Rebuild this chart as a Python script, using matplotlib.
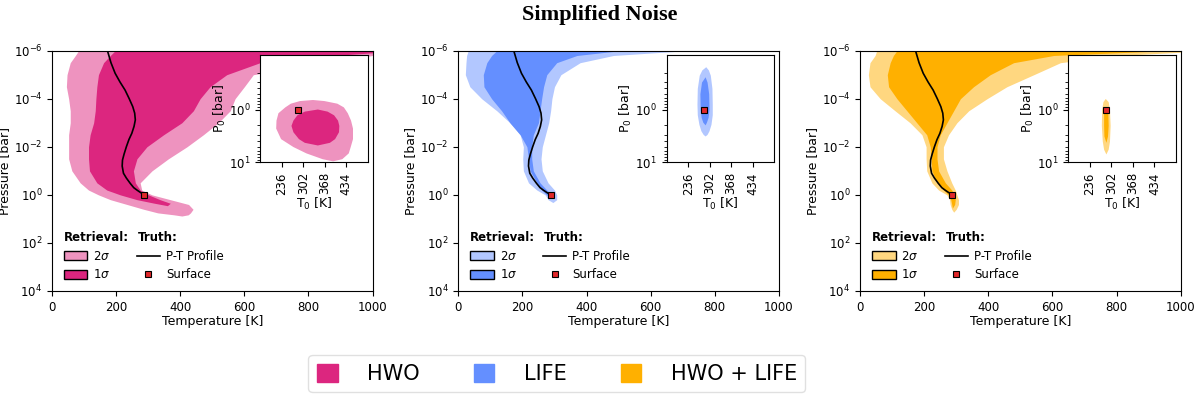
import numpy as np
import matplotlib.pyplot as plt
from matplotlib.patches import Patch
from matplotlib.lines import Line2D
from matplotlib.ticker import NullLocator

# true P-T profile (same for all three panels)
profile_logp = [-6, -5.5, -5.06, -4.7, -4.36, -4.0, -3.67, -3.4, -3.12, -2.85, -2.56, -2.3, -2.0,
                -1.7, -1.45, -1.2, -0.9, -0.7, -0.48, -0.3, -0.2, -0.1, 0]
profile_t = [173, 184, 197, 212, 228, 241, 252, 258, 260, 256, 249, 240, 232,
             225, 220, 219, 223, 232, 244, 255, 265, 276, 288]
surface_t = 288
surface_p = 1.0

# HWO retrieval envelopes (log10 P [bar], lower / upper temperature [K])
hwo_2s_logp = [-6, -5.8, -5.5, -5, -4.5, -4, -3.5, -3, -2.5, -2, -1.5, -1, -0.5, -0.2, 0, 0.2, 0.4, 0.6, 0.75, 0.83, 0.88]
hwo_2s_lo = [83, 73, 57, 47, 45, 52, 57, 57, 52, 52, 52, 62, 88, 114, 145, 182, 234, 286, 330, 380, 405]
hwo_2s_hi = [1100, 1000, 850, 628, 600, 571, 556, 519, 472, 421, 363, 312, 275, 280, 312, 369, 426, 440, 432, 425, 405]
hwo_1s_logp = [-6, -5.8, -5.5, -5, -4.5, -4, -3.5, -3, -2.5, -2, -1.5, -1, -0.5, -0.2, 0, 0.2, 0.35, 0.45]
hwo_1s_lo = [197, 182, 161, 145, 140, 137, 135, 130, 119, 114, 114, 117, 140, 171, 213, 265, 320, 360]
hwo_1s_hi = [1100, 877, 649, 545, 493, 462, 441, 405, 348, 296, 265, 254, 260, 275, 301, 337, 369, 360]

# LIFE retrieval envelopes
life_2s_logp = [-6, -5.8, -5.5, -5, -4.5, -4, -3.5, -3, -2.5, -2, -1.5, -1, -0.5, -0.2, 0, 0.2, 0.32]
life_2s_lo = [31, 26, 24, 22, 36, 73, 120, 161, 193, 203, 201, 203, 219, 245, 271, 280, 295]
life_2s_hi = [714, 484, 380, 320, 300, 292, 288, 282, 272, 262, 258, 262, 280, 300, 307, 307, 295]
life_1s_logp = [-6, -5.8, -5.5, -5, -4.5, -4, -3.5, -3, -2.5, -2, -1.5, -1, -0.5, -0.2, 0, 0.1]
life_1s_lo = [120, 104, 89, 78, 80, 104, 135, 161, 193, 214, 219, 224, 245, 260, 276, 285]
life_1s_hi = [505, 370, 307, 276, 266, 260, 255, 250, 234, 229, 229, 234, 255, 276, 292, 285]

# HWO + LIFE retrieval envelopes
both_2s_logp = [-6, -5.8, -5.5, -5, -4.5, -4, -3.5, -3, -2.5, -2, -1.5, -1, -0.5, -0.2, 0, 0.2, 0.4, 0.6, 0.72]
both_2s_lo = [52, 47, 31, 26, 31, 63, 109, 156, 193, 206, 206, 208, 224, 245, 271, 279, 281, 286, 292]
both_2s_hi = [1100, 802, 625, 542, 458, 396, 339, 302, 276, 260, 260, 271, 286, 297, 302, 307, 307, 300, 292]
both_1s_logp = [-6, -5.8, -5.5, -5, -4.5, -4, -3.5, -3, -2.5, -2, -1.5, -1, -0.5, -0.2, 0, 0.2, 0.4, 0.55]
both_1s_lo = [115, 104, 94, 85, 89, 115, 146, 177, 208, 219, 222, 224, 240, 260, 276, 283, 286, 288]
both_1s_hi = [958, 604, 479, 406, 354, 313, 292, 271, 250, 240, 240, 245, 266, 286, 294, 297, 295, 288]

# surface (T0, P0) posteriors for the insets (log10 P0, lower / upper T0)
hwo_in2_logp = [-0.19, -0.17, -0.12, -0.05, 0.06, 0.2, 0.35, 0.55, 0.7, 0.82, 0.93, 0.97]
hwo_in2_lo = [330, 290, 262, 245, 224, 218, 217, 232, 270, 310, 360, 392]
hwo_in2_hi = [330, 365, 405, 425, 437, 447, 453, 453, 446, 440, 420, 392]
hwo_in1_logp = [-0.01, 0.03, 0.1, 0.2, 0.3, 0.42, 0.55, 0.62, 0.67]
hwo_in1_lo = [345, 305, 282, 270, 264, 270, 287, 305, 345]
hwo_in1_hi = [345, 375, 395, 407, 411, 410, 398, 382, 345]

life_in2_logp = [-0.81, -0.75, -0.65, -0.4, -0.1, 0.1, 0.28, 0.4, 0.47, 0.5]
life_in2_lo = [290, 278, 270, 264, 263, 264, 269, 275, 282, 288]
life_in2_hi = [290, 298, 304, 309, 310, 310, 306, 300, 294, 288]
life_in1_logp = [-0.62, -0.52, -0.3, 0.0, 0.15, 0.24, 0.29]
life_in1_lo = [288, 277, 272, 273, 276, 281, 288]
life_in1_hi = [288, 294, 299, 300, 297, 292, 288]

both_in2_logp = [-0.21, -0.15, 0.0, 0.3, 0.6, 0.75, 0.84]
both_in2_lo = [283, 276, 272, 271, 274, 278, 285]
both_in2_hi = [283, 292, 296, 298, 296, 292, 285]
both_in1_logp = [-0.06, 0.05, 0.3, 0.5, 0.62]
both_in1_lo = [284, 278, 278, 279, 285]
both_in1_hi = [284, 291, 292, 290, 285]

names = ['HWO', 'LIFE', 'HWO + LIFE']
dark_colors = ['#dc267f', '#648fff', '#ffb000']
light_colors = ['#ee93bf', '#b2c7ff', '#ffd780']
surface_color = '#e0282a'

panels = [
    (hwo_2s_logp, hwo_2s_lo, hwo_2s_hi, hwo_1s_logp, hwo_1s_lo, hwo_1s_hi,
     hwo_in2_logp, hwo_in2_lo, hwo_in2_hi, hwo_in1_logp, hwo_in1_lo, hwo_in1_hi),
    (life_2s_logp, life_2s_lo, life_2s_hi, life_1s_logp, life_1s_lo, life_1s_hi,
     life_in2_logp, life_in2_lo, life_in2_hi, life_in1_logp, life_in1_lo, life_in1_hi),
    (both_2s_logp, both_2s_lo, both_2s_hi, both_1s_logp, both_1s_lo, both_1s_hi,
     both_in2_logp, both_in2_lo, both_in2_hi, both_in1_logp, both_in1_lo, both_in1_hi),
]

plt.rcParams['font.family'] = 'DejaVu Sans'
plt.rcParams['font.size'] = 8.5
plt.rcParams['axes.labelsize'] = 9

fig = plt.figure(figsize=(12, 3.99), dpi=100)
lefts = [0.0433, 0.3819, 0.7167]

for i, data in enumerate(panels):
    (p2, lo2, hi2, p1, lo1, hi1, ip2, ilo2, ihi2, ip1, ilo1, ihi1) = data
    ax = fig.add_axes([lefts[i], 0.2707, 0.2672, 0.6023])
    # envelopes
    ax.fill_betweenx(10.0 ** np.array(p2), lo2, hi2, color=light_colors[i], lw=0)
    ax.fill_betweenx(10.0 ** np.array(p1), lo1, hi1, color=dark_colors[i], lw=0)
    ax.plot(profile_t, 10.0 ** np.array(profile_logp), color='black', lw=1.2)
    ax.plot([surface_t], [surface_p], 's', color=surface_color, mec='black', mew=0.8, ms=5)
    ax.set_yscale('log')
    ax.set_xlim(0, 1000)
    ax.set_ylim(1e4, 1e-6)
    ax.set_yticks([1e-6, 1e-4, 1e-2, 1e0, 1e2, 1e4])
    ax.yaxis.set_minor_locator(NullLocator())
    ax.set_xticks([0, 200, 400, 600, 800, 1000])
    ax.set_xlabel('Temperature [K]', labelpad=1)
    ax.set_ylabel('Pressure [bar]', labelpad=2)

    # legend
    ax.text(0.037, 0.223, 'Retrieval:', transform=ax.transAxes, fontweight='bold', va='center')
    ax.text(0.268, 0.223, 'Truth:', transform=ax.transAxes, fontweight='bold', va='center')
    handles = [Patch(facecolor=light_colors[i], edgecolor='black', lw=1),
               Patch(facecolor=dark_colors[i], edgecolor='black', lw=1),
               Line2D([], [], color='black', lw=1.2),
               Line2D([], [], ls='none', marker='s', color=surface_color, mec='black', mew=0.8, ms=5)]
    labels = [r'2$\sigma$', r'1$\sigma$', 'P-T Profile', 'Surface']
    ax.legend(handles, labels, ncol=2, loc='upper left', bbox_to_anchor=(0.037, 0.171),
              frameon=False, borderpad=0, borderaxespad=0, handlelength=2.0, handleheight=0.8,
              handletextpad=0.5, columnspacing=2.2, labelspacing=0.45)

    # surface inset
    ins = ax.inset_axes([0.65, 0.535, 0.335, 0.445])
    ins.fill_betweenx(10.0 ** np.array(ip2), ilo2, ihi2, color=light_colors[i], lw=0)
    ins.fill_betweenx(10.0 ** np.array(ip1), ilo1, ihi1, color=dark_colors[i], lw=0)
    ins.plot([surface_t - 2], [surface_p], 's', color=surface_color, mec='black', mew=0.8, ms=5)
    ins.set_yscale('log')
    ins.set_xlim(170, 500)
    ins.set_ylim(10, 0.095)
    ins.set_xticks([236, 302, 368, 434])
    ins.set_xticklabels(['236', '302', '368', '434'], rotation=90)
    ins.set_yticks([1, 10])
    ins.set_xlabel(r'T$_0$ [K]', labelpad=1)
    ins.set_ylabel(r'P$_0$ [bar]', labelpad=1)

fig.text(0.5, 0.963, 'Simplified Noise', ha='center', va='center', fontsize=16,
         fontweight='bold', family='Liberation Serif')

leg_handles = [Patch(color=c) for c in dark_colors]
fig.legend(leg_handles, names, ncol=3, loc='center', bbox_to_anchor=(0.464, 0.063),
           fontsize=15, handlelength=1.0, handleheight=1.0, handletextpad=1.4,
           columnspacing=2.6, frameon=True, edgecolor='0.85', fancybox=True)

fig.savefig('out.png', dpi=100)
